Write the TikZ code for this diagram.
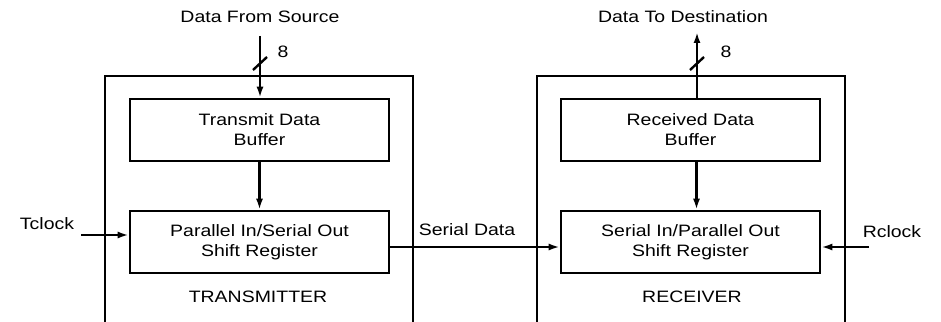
\documentclass[tikz,border=0pt]{standalone}
\usepackage{fontspec}
\setmainfont{Liberation Sans}[FakeStretch=1.18]
\usetikzlibrary{arrows.meta,positioning}
\tikzset{
  lab/.style={font=\fontsize{16.5}{20}\selectfont, align=center, inner sep=0pt},
  unit/.style={draw, line width=2.6pt, minimum width=308pt, minimum height=262pt, inner sep=0pt},
  block/.style={draw, line width=2.6pt, minimum width=259pt, minimum height=62pt, lab},
  wire/.style={line width=2.4pt, -{Latex[length=11pt,width=7pt]}},
  bus/.style={line width=2.4pt}
}
\begin{document}
\begin{tikzpicture}[x=1pt,y=-1pt]
\useasboundingbox (0,0) rectangle (941,321);
% transmitter side
\node[unit] (tx) at (259,207) {};
\node[block] (txbuf) at (259.5,130) {Transmit Data\\Buffer};
\node[block] (txsr) at (259.5,242) {Parallel In/Serial Out\\Shift Register};
\node[lab] (txname) at (258,297) {TRANSMITTER};
\node[lab] (srcname) at (260,17) {Data From Source};
\node[lab] (srcw) at (283,52) {8};
\node[lab] (tclk) at (47,224) {Tclock};
\coordinate (src) at (260,36);
\coordinate (tclkin) at (81,235);
\draw[wire] (src) -- (src |- txbuf.north);
\draw[bus] (253,70) -- (267,57);
\draw[wire] (txbuf) -- (txsr);
\draw[wire] (tclkin) -- (tclkin -| txsr.west);

% receiver side
\node[unit] (rx) at (691,207) {};
\node[block] (rxbuf) at (690.5,130) {Received Data\\Buffer};
\node[block] (rxsr) at (690.5,242) {Serial In/Parallel Out\\Shift Register};
\node[lab] (rxname) at (692,297) {RECEIVER};
\node[lab] (dstname) at (683,17) {Data To Destination};
\node[lab] (dstw) at (726,52) {8};
\node[lab] (rclk) at (892,232) {Rclock};
\coordinate (dst) at (697,32);
\coordinate (rclkin) at (869,247);
\draw[wire] (dst |- rxbuf.north) -- (dst);
\draw[bus] (690,70) -- (704,57);
\draw[wire] ([xshift=6pt]rxbuf.south) -- ([xshift=6pt]rxsr.north);
\draw[wire] (rclkin) -- (rclkin -| rxsr.east);

% serial link
\node[lab] (serial) at (467,230) {Serial Data};
\draw[wire] ([yshift=-5pt]txsr.east) -- ([yshift=-5pt]rxsr.west);
\end{tikzpicture}
\end{document}
